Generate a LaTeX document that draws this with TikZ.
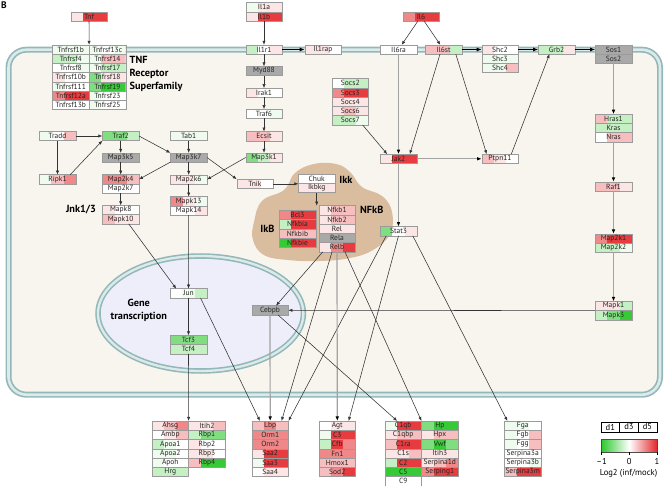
\documentclass[tikz,border=0pt]{standalone}
\usepackage{fontspec}
\setmainfont{PT Sans}
\usepackage{xcolor}
\usetikzlibrary{positioning, arrows.meta, calc}
\definecolor{hred}{HTML}{E3262A}
\definecolor{hgreen}{HTML}{2BC82B}
\definecolor{cellfill}{HTML}{F8F4EE}
\definecolor{memline}{HTML}{93B8B9}
\definecolor{memmid}{HTML}{DDEAEA}
\definecolor{nucfill}{HTML}{EEEEFB}
\definecolor{ikkfill}{HTML}{D9BD9E}
\definecolor{boxline}{HTML}{9B9B9B}
\definecolor{boxgray}{HTML}{A9A9A9}
\definecolor{linedark}{HTML}{333333}
\definecolor{linegray}{HTML}{A3A3A3}
\colorlet{r1}{hred!12!white}
\colorlet{r2}{hred!30!white}
\colorlet{r3}{hred!55!white}
\colorlet{r4}{hred!90!white}
\colorlet{g1}{hgreen!8!white}
\colorlet{g2}{hgreen!28!white}
\colorlet{g3}{hgreen!60!white}
\colorlet{g4}{hgreen!95!white}
\newcommand\gfont{\fontsize{7.5}{8}\selectfont}
\newcommand\labfont{\fontsize{10.3}{13.3}\selectfont\bfseries}
\newcommand\legfont{\fontsize{8.6}{9}\selectfont}

\tikzset{
  gene/.style={draw=boxline, line width=0.4pt, minimum width=36.6pt, minimum height=9.25pt,
               inner sep=0pt, outer sep=0pt, font=\gfont, text=black!85},
  heat/.style n args={3}{gene, path picture={
      \fill[#1] (path picture bounding box.south west) rectangle ([xshift=12.2pt]path picture bounding box.north west);
      \fill[#2] ([xshift=12.2pt]path picture bounding box.south west) rectangle ([xshift=24.4pt]path picture bounding box.north west);
      \fill[#3] ([xshift=24.4pt]path picture bounding box.south west) rectangle (path picture bounding box.north east);}},
  gbox/.style={gene, fill=boxgray},
  lab/.style={font=\labfont, inner sep=0pt, align=center},
  sig/.style={draw=linedark, line width=0.55pt, -{Latex[length=4pt,width=3.2pt]}},
  gsig/.style={draw=linegray, line width=1.2pt, -{Latex[length=4.5pt,width=3.6pt,color=black]}},
  msig/.style={draw=black, line width=1.3pt, -{Latex[length=5pt,width=4pt]}},
  legbox/.style={draw=black, line width=0.5pt, minimum width=18.6pt, minimum height=9.6pt,
                 inner sep=0pt, outer sep=0pt, font=\legfont},
  legtext/.style={font=\legfont, inner sep=0pt}
}

\begin{document}
\begin{tikzpicture}[x=1pt, y=-1pt]
  \useasboundingbox (0,0) rectangle (664,486);

  % cell, nucleus, IKK complex
  \fill[cellfill] (8.5,49.7) [rounded corners=18pt] rectangle (660,394.7);
  \draw[memline, line width=6pt] (8.5,49.7) [rounded corners=18pt] rectangle (660,394.7);
  \draw[memmid, line width=2.6pt] (8.5,49.7) [rounded corners=18pt] rectangle (660,394.7);
  \fill[nucfill] (200.7,313.5) ellipse [x radius=102.7, y radius=57.5];
  \draw[memline, line width=5.5pt] (200.7,313.5) ellipse [x radius=102.7, y radius=57.5];
  \draw[memmid, line width=2.3pt] (200.7,313.5) ellipse [x radius=102.7, y radius=57.5];
  \fill[ikkfill] plot[smooth cycle, tension=0.7] coordinates {(254,222) (262,201) (284,190)
    (295,173) (314,164) (336,164) (350,172) (362,187) (382,196) (392,212) (390,234)
    (373,250) (350,258) (320,261) (288,260) (264,255) (253,240)};

  \node[font=\fontsize{9.5}{10}\selectfont\bfseries, inner sep=0pt] (plabel) at (4,5) {B};

  % ligands
  \node[heat={r1}{r4}{r4}] (tnf) at (89,16.5) {Tnf};
  \node[heat={g1}{r1}{r1}] (il1a) at (264,7.2) {Il1a};
  \node[heat={r1}{r4}{r4}, below=0pt of il1a] (il1b) {Il1b};
  \node[heat={r3}{r4}{r4}] (il6) at (421,16.5) {Il6};

  % TNF receptors
  \node[heat={g1}{g1}{g1}] (tnfrsf1b) at (70.8,49.5) {Tnfrsf1b};
  \node[heat={g2}{g2}{g1}, below=0pt of tnfrsf1b] (tnfrsf4) {Tnfrsf4};
  \node[heat={white}{white}{g1}, below=0pt of tnfrsf4] (tnfrsf8) {Tnfrsf8};
  \node[heat={r1}{white}{white}, below=0pt of tnfrsf8] (tnfrsf10b) {Tnfrsf10b};
  \node[heat={g1}{white}{white}, below=0pt of tnfrsf10b] (tnfrsf11l) {Tnfrsf111};
  \node[heat={r3}{r4}{r4}, below=0pt of tnfrsf11l] (tnfrsf12a) {Tnfrsf12a};
  \node[heat={white}{white}{white}, below=0pt of tnfrsf12a] (tnfrsf13b) {Tnfrsf13b};
  \node[heat={g1}{white}{g1}, right=0pt of tnfrsf1b] (tnfrsf13c) {Tnfrsf13c};
  \node[heat={g1}{r2}{r2}, below=0pt of tnfrsf13c] (tnfrsf14) {Tnfrsf14};
  \node[heat={g1}{g2}{g2}, below=0pt of tnfrsf14] (tnfrsf17) {Tnfrsf17};
  \node[heat={g3}{r1}{r1}, below=0pt of tnfrsf17] (tnfrsf18) {Tnfrsf18};
  \node[heat={g3}{g4}{g4}, below=0pt of tnfrsf18] (tnfrsf19) {Tnfrsf19};
  \node[heat={g1}{white}{white}, below=0pt of tnfrsf19] (tnfrsf23) {Tnfrsf23};
  \node[heat={g1}{white}{white}, below=0pt of tnfrsf23] (tnfrsf25) {Tnfrsf25};
  \node[lab, align=left, anchor=west] (tnflab) at (129.5,74) {TNF\\Receptor\\Superfamily};

  % membrane row
  \node[heat={g2}{white}{r1}] (il1r1) at (264,49.5) {Il1r1};
  \node[heat={r1}{r1}{white}] (il1rap) at (323,49.5) {Il1rap};
  \node[heat={white}{white}{white}] (il6ra) at (398.5,49.5) {Il6ra};
  \node[heat={r2}{r2}{g2}] (il6st) at (443.5,49.5) {Il6st};
  \node[heat={r1}{white}{white}] (shc2) at (500,49.5) {Shc2};
  \node[heat={g1}{g1}{g1}, below=0pt of shc2] (shc3) {Shc3};
  \node[heat={g1}{g1}{r2}, below=0pt of shc3] (shc4) {Shc4};
  \node[heat={g2}{g2}{r1}] (grb2) at (556.5,49.5) {Grb2};
  \node[gbox] (sos1) at (613.5,49.5) {Sos1};
  \node[gbox, below=0pt of sos1] (sos2) {Sos2};

  % Il1 branch
  \node[gbox] (myd88) at (264,71) {Myd88};
  \node[heat={r1}{white}{white}] (irak1) at (264,92.8) {Irak1};
  \node[heat={white}{white}{g1}] (traf6) at (264,113.8) {Traf6};
  \node[heat={r2}{r2}{r1}] (ecsit) at (264,136.2) {Ecsit};
  \node[heat={g3}{g2}{r1}] (map3k1) at (264,157.5) {Map3k1};

  % Socs
  \node[heat={white}{g2}{g2}] (socs2) at (350.3,83.3) {Socs2};
  \node[heat={r3}{r4}{r4}, below=0pt of socs2] (socs3) {Socs3};
  \node[heat={r1}{r1}{r1}, below=0pt of socs3] (socs4) {Socs4};
  \node[heat={r1}{r2}{r1}, below=0pt of socs4] (socs6) {Socs6};
  \node[heat={g2}{g2}{g1}, below=0pt of socs6] (socs7) {Socs7};

  % Ras branch
  \node[heat={r2}{g2}{g2}] (hras1) at (613.5,118.8) {Hras1};
  \node[heat={g2}{g2}{g2}, below=0pt of hras1] (kras) {Kras};
  \node[heat={white}{r2}{r2}, below=0pt of kras] (nras) {Nras};
  \node[heat={r2}{r2}{r1}] (raf1) at (613.5,186.5) {Raf1};
  \node[heat={r3}{r4}{r4}] (map2k1) at (613.5,238.5) {Map2k1};
  \node[heat={g2}{g2}{g1}, below=0pt of map2k1] (map2k2) {Map2k2};
  \node[heat={r1}{r1}{g2}] (mapk1) at (613.5,306) {Mapk1};
  \node[heat={g2}{g3}{g4}, below=0pt of mapk1] (mapk3) {Mapk3};

  % Jak/Stat
  \node[heat={r1}{r4}{r4}] (jak2) at (398.5,158.8) {Jak2};
  \node[heat={r2}{r1}{white}] (ptpn11) at (500,158.8) {Ptpn11};
  \node[heat={g3}{white}{r1}] (stat3) at (398.5,231.2) {Stat3};

  % TNF branch
  \node[heat={g1}{white}{r2}] (tradd) at (57.5,136) {Tradd};
  \node[heat={g3}{g3}{g2}] (traf2) at (120.7,136) {Traf2};
  \node[heat={g1}{g1}{g1}] (tab1) at (188.7,136) {Tab1};
  \node[gbox] (map3k5) at (120.7,157.5) {Map3k5};
  \node[gbox] (map3k7) at (188.7,157.5) {Map3k7};
  \node[heat={g1}{r2}{r3}] (ripk1) at (57.5,179.3) {Ripk1};
  \node[heat={r3}{r3}{r2}] (map2k4) at (120.7,179.3) {Map2k4};
  \node[heat={white}{white}{white}, below=0pt of map2k4] (map2k7) {Map2k7};
  \node[heat={r1}{r1}{g1}] (map2k6) at (188.7,179.5) {Map2k6};
  \node[heat={r1}{white}{white}] (mapk8) at (120.7,210) {Mapk8};
  \node[heat={r2}{r1}{r1}, below=0pt of mapk8] (mapk10) {Mapk10};
  \node[heat={r3}{r1}{g1}] (mapk13) at (188.7,201.2) {Mapk13};
  \node[heat={white}{white}{r1}, below=0pt of mapk13] (mapk14) {Mapk14};
  \node[lab] (jnklab) at (81,210) {Jnk1/3};
  \node[heat={r1}{r1}{white}] (tnik) at (255,183.8) {Tnik};

  % IKK / NFkB
  \node[heat={white}{white}{white}] (chuk) at (316.7,178.8) {Chuk};
  \node[heat={r1}{r1}{r1}, below=0pt of chuk] (ikbkg) {Ikbkg};
  \node[lab] (ikklab) at (346,180) {Ikk};
  \node[heat={r1}{r2}{r2}] (nfkb1) at (337,210.3) {Nfkb1};
  \node[heat={r1}{r2}{r2}, below=0pt of nfkb1] (nfkb2) {Nfkb2};
  \node[heat={r1}{r1}{r1}, below=0pt of nfkb2] (rel) {Rel};
  \node[gbox, below=0pt of rel] (rela) {Rela};
  \node[heat={r1}{r3}{r4}, below=0pt of rela] (relb) {Relb};
  \node[lab] (nfkblab) at (371.8,210) {NFkB};
  \node[heat={r3}{r4}{r4}] (bcl3) at (297.5,215) {Bcl3};
  \node[heat={g2}{r4}{r4}, below=0pt of bcl3] (nfkbia) {Nfkbia};
  \node[heat={r2}{r2}{r2}, below=0pt of nfkbia] (nfkbib) {Nfkbib};
  \node[heat={g4}{r4}{r4}, below=0pt of nfkbib] (nfkbie) {Nfkbie};
  \node[lab] (ikblab) at (267.5,229) {IkB};

  % nucleus
  \node[heat={white}{g1}{g2}] (jun) at (188.5,293.3) {Jun};
  \node[heat={g3}{g3}{g3}] (tcf3) at (188.5,340) {Tcf3};
  \node[heat={g2}{g2}{g2}, below=0pt of tcf3] (tcf4) {Tcf4};
  \node[gbox] (cebpb) at (270,310.3) {Cebpb};
  \node[lab, font=\fontsize{10.3}{12.7}\selectfont\bfseries] (genelab) at (138.8,310.3) {Gene\\transcription};

  % secreted proteins
  \node[heat={r1}{r2}{r3}] (ahsg) at (170.3,425.6) {Ahsg};
  \node[heat={white}{r1}{r2}, below=0pt of ahsg] (ambp) {Ambp};
  \node[heat={g2}{g1}{white}, below=0pt of ambp] (apoa1) {Apoa1};
  \node[heat={g1}{g1}{white}, below=0pt of apoa1] (apoa2) {Apoa2};
  \node[heat={g1}{white}{white}, below=0pt of apoa2] (apoh) {Apoh};
  \node[heat={g2}{g2}{g2}, below=0pt of apoh] (hrg) {Hrg};
  \node[heat={r1}{r1}{r2}, right=0pt of ahsg] (itih2) {Itih2};
  \node[heat={g2}{g3}{g3}, below=0pt of itih2] (rbp1) {Rbp1};
  \node[heat={r1}{white}{white}, below=0pt of rbp1] (rbp2) {Rbp2};
  \node[heat={r1}{r1}{white}, below=0pt of rbp2] (rbp3) {Rbp3};
  \node[heat={r2}{g4}{g4}, below=0pt of rbp3] (rbp4) {Rbp4};

  \node[heat={r2}{r3}{r2}] (lbp) at (270.2,425.6) {Lbp};
  \node[heat={r3}{r3}{r3}, below=0pt of lbp] (orm1) {Orm1};
  \node[heat={r3}{r3}{r3}, below=0pt of orm1] (orm2) {Orm2};
  \node[heat={r1}{r4}{r4}, below=0pt of orm2] (saa2) {Saa2};
  \node[heat={g1}{r4}{r4}, below=0pt of saa2] (saa3) {Saa3};
  \node[heat={white}{r1}{r1}, below=0pt of saa3] (saa4) {Saa4};

  \node[heat={white}{r1}{r1}] (agt) at (337.3,425.6) {Agt};
  \node[heat={g1}{r4}{r4}, below=0pt of agt] (c3) {C3};
  \node[heat={g2}{r4}{r3}, below=0pt of c3] (cfb) {Cfb};
  \node[heat={r3}{r3}{r3}, below=0pt of cfb] (fn1) {Fn1};
  \node[heat={r2}{r2}{r2}, below=0pt of fn1] (hmox1) {Hmox1};
  \node[heat={r2}{r3}{r4}, below=0pt of hmox1] (sod2) {Sod2};

  \node[heat={g1}{r4}{r4}] (c1qb) at (403.2,425.6) {C1qb};
  \node[heat={r1}{r2}{r2}, below=0pt of c1qb] (c1qbp) {C1qbp};
  \node[heat={r2}{r4}{r4}, below=0pt of c1qbp] (c1ra) {C1ra};
  \node[heat={r1}{r1}{r2}, below=0pt of c1ra] (c1s) {C1s};
  \node[heat={g2}{r4}{r4}, below=0pt of c1s] (c2) {C2};
  \node[heat={g4}{g4}{g4}, below=0pt of c2] (c5) {C5};
  \node[heat={white}{white}{white}, below=0pt of c5] (c9) {C9};
  \node[heat={g3}{g4}{g4}, right=0pt of c1qb] (hp) {Hp};
  \node[heat={r1}{r2}{r2}, below=0pt of hp] (hpx) {Hpx};
  \node[heat={g3}{g4}{g3}, below=0pt of hpx] (vwf) {Vwf};
  \node[heat={r1}{r1}{r1}, below=0pt of vwf] (itih3) {Itih3};
  \node[heat={r1}{r2}{r3}, below=0pt of itih3] (serpina1d) {Serpina1d};
  \node[heat={r3}{r4}{r4}, below=0pt of serpina1d] (serping1) {Serping1};

  \node[heat={g1}{g1}{white}] (fga) at (522.7,425.6) {Fga};
  \node[heat={g1}{white}{r2}, below=0pt of fga] (fgb) {Fgb};
  \node[heat={g1}{white}{r2}, below=0pt of fgb] (fgg) {Fgg};
  \node[heat={white}{white}{white}, below=0pt of fgg] (serpina3a) {Serpina3a};
  \node[heat={white}{white}{g1}, below=0pt of serpina3a] (serpina3b) {Serpina3b};
  \node[heat={r2}{r4}{r4}, below=0pt of serpina3b] (serpina3m) {Serpina3m};

  % legend
  \node[legbox] (d1) at (610.3,427) {d1};
  \node[legbox, right=0pt of d1] (d3) {d3};
  \node[legbox, right=0pt of d3] (d5) {d5};
  \node[draw=black!70, line width=0.4pt, minimum width=56.3pt, minimum height=12.4pt, inner sep=0pt,
        left color=hgreen, right color=hred, middle color=white] (bar) at (629.2,445.5) {};
  \draw[line width=0.4pt] (bar.south west) -- ++(0,3);
  \draw[line width=0.4pt] (bar.south) -- ++(0,3);
  \draw[line width=0.4pt] (bar.south east) -- ++(0,3);
  \node[legtext] (tickm) at (601.5,461) {--1};
  \node[legtext] (tickz) at (629.2,461) {0};
  \node[legtext] (tickp) at (657,461) {1};
  \node[legtext] (loglab) at (628.5,473.5) {Log2 (inf/mock)};

  % connectors
  \draw[sig] (tnf) -- (tnfrsf1b.north east);
  \draw[sig] (il1b) -- (il1r1);
  \draw[msig] (il1r1) -- (il1rap);
  \draw[sig] (il1r1) -- (myd88);
  \draw[sig] (myd88) -- (irak1);
  \draw[sig] (irak1) -- (traf6);
  \draw[sig] (traf6) -- (ecsit);
  \draw[sig] (ecsit) -- (map3k1);
  \draw[sig] (il6) -- (il6ra);
  \draw[sig] (il6) -- (il6st);
  \draw[msig] (il6st) -- (shc2);
  \draw[msig] (shc2) -- (grb2);
  \draw[msig] (grb2) -- (sos1);
  \draw[gsig] (sos2) -- (hras1);
  \draw[gsig] (nras) -- (raf1);
  \draw[gsig] (raf1) -- (map2k1);
  \draw[gsig] (map2k2) -- (mapk1);
  \draw[sig] (mapk1.south west) -- (cebpb.east);
  \draw[gsig] (il6ra) -- (jak2);
  \draw[sig] ([xshift=-3.5pt]il6st.south) -- ([xshift=-7pt]jak2.north east);
  \draw[sig] ([xshift=-6pt]socs7.south east) -- ([xshift=7pt]jak2.north west);
  \draw[sig] ([xshift=-6pt]il6st.south east) -- ([xshift=5pt]ptpn11.north west);
  \draw[sig] ([xshift=-7pt]ptpn11.north east) -- ([xshift=-7pt]grb2.south);
  \draw[gsig] (jak2) -- (ptpn11);
  \draw[gsig] (jak2) -- (stat3);

  \draw[sig] (tradd) -- (traf2);
  \draw[sig] (tradd) -- (ripk1);
  \draw[sig] (ripk1.20) -- (traf2.south west);
  \draw[sig] (traf2) -- (map3k5);
  \draw[sig] (traf2.east) -- (map3k7.north west);
  \draw[sig] (tab1) -- (map3k7);
  \draw[sig] (map3k5) -- (map2k4);
  \draw[sig] (map3k7.south west) -- (map2k4.east);
  \draw[sig] (map3k7) -- (map2k6);
  \draw[sig] (map3k7.east) -- (tnik.north west);
  \draw[sig] (map3k1.west) -- (map2k6.east);
  \draw[sig] (map2k7) -- (mapk8);
  \draw[sig] (map2k6) -- (mapk13);
  \draw[sig] (tnik) -- (tnik -| chuk.west);
  \draw[sig] (ikbkg.south) -- (ikbkg.south |- nfkb1.north);
  \draw[sig] ([xshift=8pt]mapk10.south) -- ([xshift=6pt]jun.north west);
  \draw[sig] (mapk14) -- (jun);
  \draw[sig] (jun) -- (tcf3);

  \draw[sig] (tcf4) -- (ahsg.north east);
  \draw[sig] ([xshift=12pt]jun.south) -- ([xshift=8pt]lbp.north west);
  \draw[gsig] (cebpb) -- (lbp);
  \draw[sig] ([xshift=4pt]relb.south west) -- ([xshift=6pt]cebpb.north);
  \draw[sig] ([xshift=-5pt]relb.south) -- ([xshift=-7pt]lbp.north east);
  \draw[sig] ([xshift=6pt]stat3.south west) -- (lbp.north east);
  \draw[gsig] (relb) -- (agt);
  \draw[sig] (stat3.south) -- ([xshift=-7pt]agt.north east);
  \draw[sig] ([xshift=-4pt]stat3.south east) -- ([xshift=3pt]fga.north west);
  \draw[sig] ([xshift=8pt]cebpb.south) -- ([xshift=-6pt]c1qb.north);
  \draw[sig] ([xshift=8pt]relb.south) -- (c1qb.north east);
\end{tikzpicture}
\end{document}
